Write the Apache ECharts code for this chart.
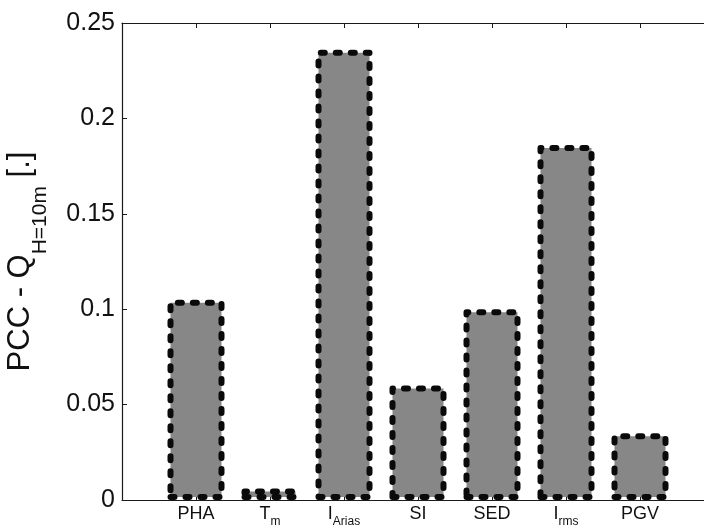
<!DOCTYPE html>
<html>
<head>
<meta charset="utf-8">
<script src="https://cdn.jsdelivr.net/npm/echarts@6/dist/echarts.min.js"></script>
<style>
html,body{margin:0;padding:0;background:#fff;}
#chart{width:704px;height:528px;}
</style>
</head>
<body>
<div id="chart"></div>
<script>
// Categories: main text and subscript
const categoryMain = ['PHA', 'T', 'I', 'SI', 'SED', 'I', 'PGV'];
const categorySub  = ['', 'm', 'Arias', '', '', 'rms', ''];
// PCC values
const pccValues = [0.105, 0.006, 0.236, 0.060, 0.100, 0.186, 0.035];
// Y tick labels
const yTicks = [0, 0.05, 0.1, 0.15, 0.2, 0.25];

const FONT = 'Liberation Sans';
const chart = echarts.init(document.getElementById('chart'), null, {renderer: 'canvas'});

const barData = pccValues.map((v, i) => [i + 1, v]);

function xLabel(val) {
  const i = Math.round(val) - 1;
  if (i < 0 || i >= categoryMain.length) return '';
  const m = categoryMain[i], s = categorySub[i];
  return s ? '{m|' + m + '}{s|' + s + '}' : '{m|' + m + '}';
}

const option = {
  animation: false,
  backgroundColor: '#fff',
  grid: {left: 122, top: 23, width: 592, height: 477, containLabel: false, outerBoundsMode: 'none'},
  xAxis: [{
    type: 'value', min: 0, max: 8, interval: 1, position: 'bottom',
    axisLine: {show: true, onZero: false, lineStyle: {color: '#1a1a1a', width: 1.2}},
    axisTick: {show: true, inside: true, length: 5, lineStyle: {color: '#1a1a1a'}},
    splitLine: {show: false},
    axisLabel: {
      margin: 5, formatter: xLabel, showMinLabel: false, showMaxLabel: false,
      rich: {
        m: {fontFamily: FONT, fontSize: 18, color: '#111', verticalAlign: 'top', lineHeight: 20},
        s: {fontFamily: FONT, fontSize: 12, color: '#111', verticalAlign: 'top', lineHeight: 20, padding: [11, 0, 0, 0]}
      }
    }
  }, {
    type: 'value', min: 0, max: 8, interval: 1, position: 'top',
    axisLine: {show: true, onZero: false, lineStyle: {color: '#1a1a1a', width: 1.2}},
    axisTick: {show: true, inside: true, length: 5, lineStyle: {color: '#1a1a1a'}},
    splitLine: {show: false},
    axisLabel: {show: false}
  }],
  yAxis: {
    type: 'value', min: 0, max: 0.25, interval: 0.05,
    axisLine: {show: true, lineStyle: {color: '#1a1a1a', width: 1.2}},
    axisTick: {show: true, inside: true, length: 5, lineStyle: {color: '#1a1a1a'}},
    splitLine: {show: false},
    axisLabel: {
      margin: 7, fontFamily: FONT, fontSize: 25, color: '#111',
      formatter: v => {
        const t = yTicks.find(y => Math.abs(y - v) < 1e-9);
        return t === undefined ? '' : String(t);
      }
    },
    name: '{m|PCC - Q}{s|H=10m}{m| [.]}',
    nameLocation: 'middle', nameRotate: 90, nameGap: 85,
    nameTextStyle: {
      rich: {
        m: {fontFamily: FONT, fontSize: 31, color: '#111', verticalAlign: 'top', lineHeight: 32},
        s: {fontFamily: FONT, fontSize: 21, color: '#111', verticalAlign: 'top', lineHeight: 32, padding: [25, 0, 0, 0]}
      }
    }
  },
  series: [{
    type: 'bar', xAxisIndex: 0, data: barData, barWidth: 57,
    itemStyle: {
      color: '#878787', borderColor: '#0a0a0a', borderWidth: 6,
      borderType: [4, 11], borderCap: 'round', borderJoin: 'round'
    }
  }]
};
chart.setOption(option);
</script>
</body>
</html>
